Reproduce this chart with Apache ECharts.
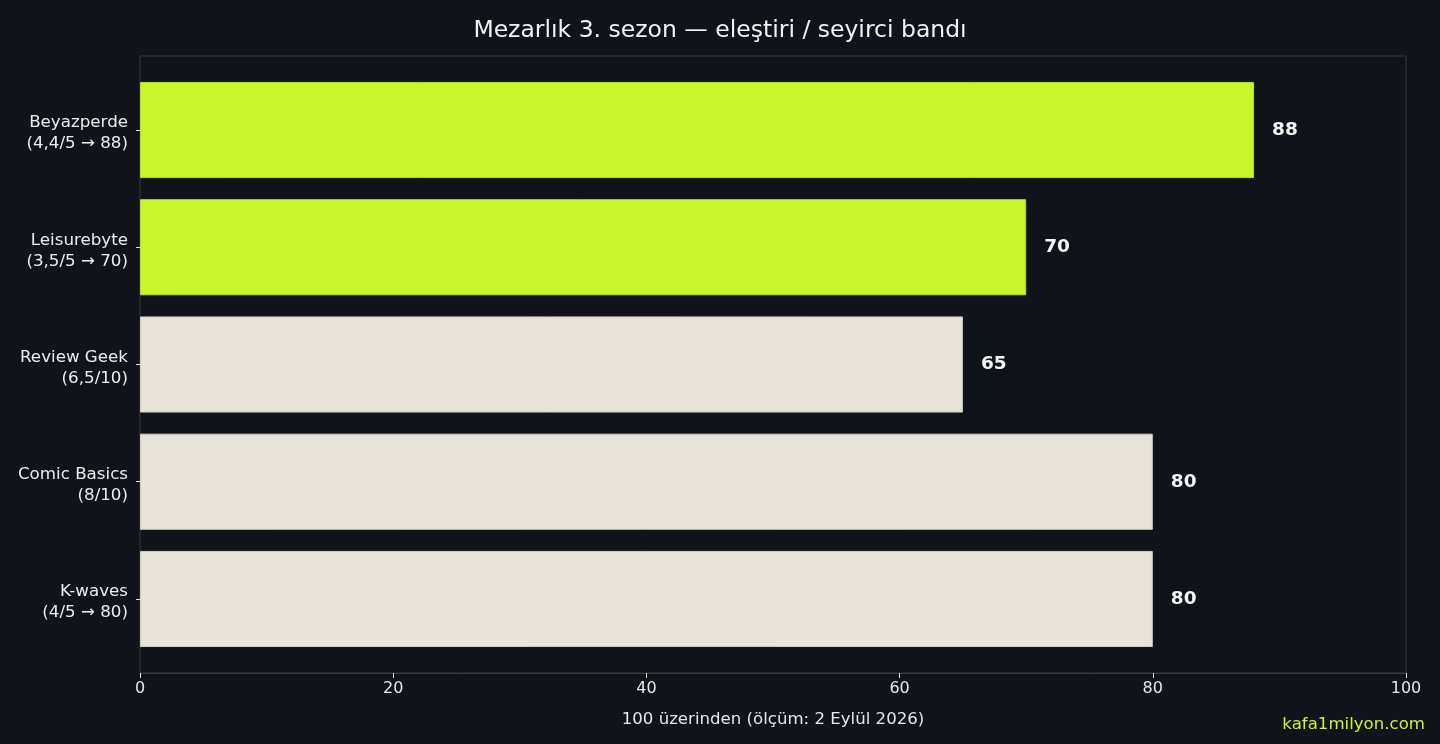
<!DOCTYPE html>
<html><head><meta charset="utf-8">
<script src="https://cdn.jsdelivr.net/npm/echarts@6/dist/echarts.min.js"></script>
<style>html,body{margin:0;padding:0;background:#10131a;}#c{width:1440px;height:744px;}</style>
</head><body><div id="c"></div>
<script>
const categories = ['Beyazperde\n(4,4/5 → 88)', 'Leisurebyte\n(3,5/5 → 70)', 'Review Geek\n(6,5/10)', 'Comic Basics\n(8/10)', 'K-waves\n(4/5 → 80)'];
const values = [88, 70, 65, 80, 80];
const highlight = [true, true, false, false, false];
const xTicks = [0, 20, 40, 60, 80, 100];

const LIME = '#c9f52b', CREAM = '#e7e3d9';
const font = 'DejaVu Sans';
const chart = echarts.init(document.getElementById('c'));
chart.setOption({
  backgroundColor: '#10131a',
  animation: false,
  title: { text: 'Mezarlık 3. sezon — eleştiri / seyirci bandı', left: 'center', top: 14,
    textStyle: { color: '#f2f2f2', fontSize: 23.5, fontWeight: 'normal', fontFamily: font } },
  graphic: [{ type: 'text', right: 15, bottom: 11,
    style: { text: 'kafa1milyon.com', fill: '#c9f52b', font: '16.6px "DejaVu Sans"' } }],
  grid: [
    { left: 140, right: 34, top: 56, bottom: 71, show: true, borderColor: '#3a3a3a', borderWidth: 1, backgroundColor: 'transparent' },
    { left: 140, right: 34, top: 71.4, bottom: 86.4 }
  ],
  xAxis: [
    { gridIndex: 0, type: 'value', min: xTicks[0], max: xTicks[xTicks.length-1], interval: 20,
      axisLine: { show: true, lineStyle: { color: '#3a3a3a' } },
      axisTick: { show: true, length: 5, lineStyle: { color: '#e0e0e0' } },
      axisLabel: { color: '#e6e6e6', fontSize: 16, fontFamily: font, margin: 8 },
      splitLine: { show: false },
      name: '100 üzerinden (ölçüm: 2 Eylül 2026)', nameLocation: 'middle', nameGap: 38,
      nameTextStyle: { color: '#e6e6e6', fontSize: 16.6, fontFamily: font } },
    { gridIndex: 1, type: 'value', min: 0, max: 100, show: false }
  ],
  yAxis: [
    { gridIndex: 0, type: 'value', show: false, min: 0, max: 1 },
    { gridIndex: 1, type: 'category', data: categories, inverse: true,
      axisLine: { show: false },
      axisTick: { show: true, length: 4, alignWithLabel: true, lineStyle: { color: '#e0e0e0' } },
      axisLabel: { color: '#ececec', fontSize: 16.7, fontFamily: font, margin: 12, lineHeight: 21, align: 'right',
        formatter: v => '{s|}\n' + v,
        rich: { s: { height: 7, lineHeight: 7, fontSize: 1 } } } }
  ],
  series: [{
    type: 'bar', xAxisIndex: 1, yAxisIndex: 1,
    data: values.map((v, i) => ({ value: v, itemStyle: { color: highlight[i] ? LIME : CREAM, borderColor: highlight[i] ? '#b5dc26' : '#cfcbc1', borderWidth: 1 } })),
    barWidth: '82%',
    label: { show: true, position: 'right', distance: 18, color: '#f5f5f5', fontSize: 18.5, fontWeight: 'bold', fontFamily: font }
  }]
});
</script></body></html>
